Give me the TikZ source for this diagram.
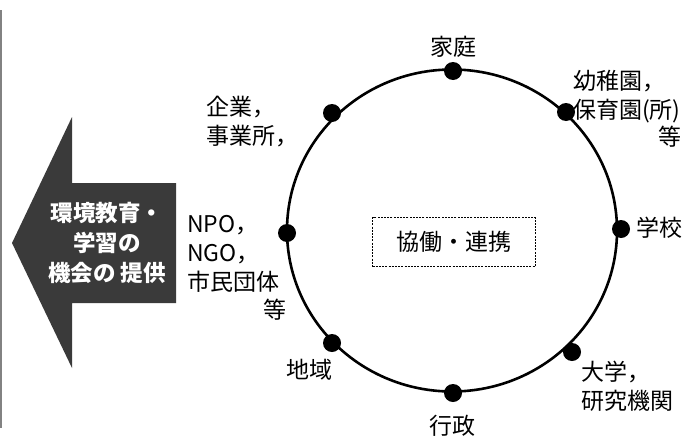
\documentclass[tikz,border=0pt]{standalone}
\usepackage{fontspec}
\setmainfont{Noto Sans CJK JP}
\definecolor{arrowgray}{RGB}{58,58,58}
\definecolor{edgegray}{RGB}{130,130,130}
\begin{document}
\begin{tikzpicture}[x=1pt,y=-1pt,
  lbl/.style={font=\fontsize{23}{29}\selectfont, inner sep=0pt, align=left},
  dotnode/.style={circle, fill=black, minimum size=18pt, inner sep=0pt},
  arrowtext/.style={font=\fontsize{22.5}{30}\selectfont\bfseries, text=white, align=center, inner sep=0pt}]
\useasboundingbox (0,0) rectangle (687,439);
% left edge line
\draw[edgegray, line width=1.2pt] (1,10) -- (1,428);
% big arrow
\fill[arrowgray] (12,243) -- (72,117) -- (72,183) -- (176,183) -- (176,303) -- (72,303) -- (72,368) -- cycle;
\node[arrowtext] (prov) at (107,243) {環境教育・\\学習の\\機会の 提供};
% circle
\draw[line width=2.6pt] (452,230.5) ellipse [x radius=165, y radius=161];
% dots
\node[dotnode] (d1) at (453,71) {};
\node[dotnode] (d2) at (566,112) {};
\node[dotnode] (d3) at (621,229) {};
\node[dotnode] (d4) at (572,352) {};
\node[dotnode] (d5) at (453,393) {};
\node[dotnode] (d6) at (332,343) {};
\node[dotnode] (d7) at (287,233) {};
\node[dotnode] (d8) at (332,113) {};
% center box
\node[draw, dashed, dash pattern=on 2pt off 1.2pt, line width=0.8pt, minimum width=163pt, minimum height=49pt, font=\fontsize{23}{28}\selectfont] (kyo) at (454,242) {協働・連携};
% labels
\node[lbl, anchor=center] (ie) at (453,47) {家庭};
\node[lbl, anchor=west] (yo) at (573,97) {幼稚園，\\保育園(所)};
\node[lbl, anchor=east] (yo2) at (682,137) {等};
\node[lbl, anchor=west] (gk) at (636,228) {学校};
\node[lbl, anchor=west] (dai) at (581,386) {大学，\\研究機関};
\node[lbl, anchor=center] (gy) at (452,426) {行政};
\node[lbl, anchor=west] (ch) at (286,370) {地域};
\node[lbl, anchor=west] (kg) at (206,122) {企業，\\事業所，};
\node[lbl, anchor=west] (npo) at (187,254) {NPO，\\NGO，\\市民団体};
\node[lbl, anchor=east] (npo2) at (287,310) {等};
\end{tikzpicture}
\end{document}
